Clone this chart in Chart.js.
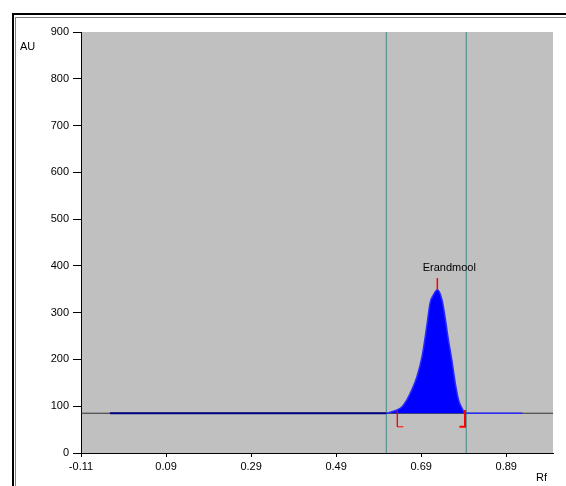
<!DOCTYPE html>
<html>
<head>
<meta charset="utf-8">
<script src="https://cdn.jsdelivr.net/npm/chart.js@4"></script>
<style>
    body { margin: 0; background: #fff; }
    #wrap { position: relative; width: 566px; height: 486px; overflow: hidden; }
    .frame-outer { position: absolute; left: 12px; top: 13px; width: 600px; height: 520px;
                   border-left: 2px solid #000; border-top: 2px solid #000; }
    .frame-inner { position: absolute; left: 15px; top: 17px; width: 600px; height: 520px;
                   border-left: 1px solid #808080; border-top: 1px solid #808080; }
    canvas { position: absolute; left: 0; top: 0; }
</style>
</head>
<body>
<div id="wrap">
    <div class="frame-outer"></div>
    <div class="frame-inner"></div>
    <canvas id="chart" width="566" height="486"></canvas>
</div>
<script>
// Eixo X (Rf) e eixo Y (AU)
const xTicks = [-0.11, 0.09, 0.29, 0.49, 0.69, 0.89];
const yTicks = [0, 100, 200, 300, 400, 500, 600, 700, 800, 900];

// Linha de base do cromatograma
const baselineRf = [-0.11, 1.0];
const baselineAU = [85, 85];

// Traço do densitograma
const traceRf = [-0.042, 0.608, 0.609, 0.621, 0.633, 0.645, 0.656, 0.668, 0.680, 0.692, 0.703,
                 0.711, 0.719, 0.728, 0.739, 0.746, 0.754, 0.762, 0.770, 0.778, 0.786, 0.793, 0.928];
const traceAU = [85, 85, 85, 88, 92, 99, 113, 135, 163, 206, 270,
                 321, 338, 349, 327, 291, 242, 199, 150, 113, 96, 85, 85];

// Limites da integração (linhas verticais)
const windowRf = [0.608, 0.796];

// Pico identificado
const peakName = 'Erandmool';
const peakRf = 0.728;
const peakAU = [349, 374];
const startMarkRf = [0.634, 0.634, 0.648];
const startMarkAU = [90, 56, 56];
const endMarkRf = [0.793, 0.793, 0.780];
const endMarkAU = [92, 56, 56];

const toPoints = (xs, ys) => xs.map((x, i) => ({ x: x, y: ys[i] }));

const fontFamily = 'Arial, "Liberation Sans", sans-serif';

// Fundo cinza da área do gráfico + textos
const plotDecor = {
    id: 'plotDecor',
    beforeDraw(chart) {
        const a = chart.chartArea;
        const ctx = chart.ctx;
        ctx.save();
        ctx.fillStyle = '#c0c0c0';
        ctx.fillRect(a.left, a.top, a.right - a.left, a.bottom - a.top);
        ctx.restore();
    },
    afterDraw(chart) {
        const ctx = chart.ctx;
        const xs = chart.scales.x;
        const ys = chart.scales.y;
        ctx.save();
        ctx.fillStyle = '#000';
        ctx.font = '11px ' + fontFamily;
        ctx.textBaseline = 'alphabetic';
        ctx.textAlign = 'left';
        ctx.fillText('AU', 20, 50);
        ctx.fillText('Rf', 536, 481);
        ctx.textAlign = 'center';
        ctx.fillText(peakName, xs.getPixelForValue(peakRf) + 12, ys.getPixelForValue(peakAU[1]) - 7);
        ctx.restore();
    }
};

const lineDs = (data, color, width, order) => ({
    data: data,
    borderColor: color,
    borderWidth: width,
    pointRadius: 0,
    fill: false,
    tension: 0,
    order: order
});

new Chart(document.getElementById('chart'), {
    type: 'line',
    data: {
        datasets: [
            lineDs(toPoints([peakRf, peakRf], peakAU), '#ff0000', 1.5, 0),
            lineDs(toPoints(startMarkRf, startMarkAU), '#ff0000', 1, 0),
            lineDs(toPoints(endMarkRf, endMarkAU), '#ff0000', 2, 0),
            {
                data: toPoints(traceRf, traceAU),
                borderColor: '#0000ff',
                borderWidth: 1.5,
                backgroundColor: '#0000ff',
                fill: { value: 85 },
                pointRadius: 0,
                cubicInterpolationMode: 'monotone',
                order: 1,
                segment: {
                    borderColor: c => c.p0.parsed.x < 0.6 ? '#000080' : '#2a2aff',
                    borderWidth: c => c.p0.parsed.x < 0.6 ? 2 : 1.5
                }
            },
            lineDs(toPoints(baselineRf, baselineAU), '#303030', 1, 2),
            lineDs(toPoints([windowRf[0], windowRf[0]], [0, 900]), '#3f8a86', 1, 3),
            lineDs(toPoints([windowRf[1], windowRf[1]], [0, 900]), '#3f8a86', 1, 3)
        ]
    },
    options: {
        responsive: false,
        animation: false,
        layout: { padding: { left: 0, top: 32, right: 13, bottom: 0 } },
        plugins: {
            legend: { display: false },
            tooltip: { enabled: false }
        },
        scales: {
            x: {
                type: 'linear',
                min: -0.11,
                max: 1.0,
                afterBuildTicks: s => { s.ticks = xTicks.map(v => ({ value: v })); },
                afterFit: s => { s.height = 33; },
                border: { color: '#000', width: 1 },
                grid: { drawOnChartArea: false, color: '#000', tickLength: 4 },
                ticks: {
                    color: '#000',
                    padding: 3,
                    maxRotation: 0,
                    font: { family: fontFamily, size: 11 },
                    callback: v => v.toFixed(2)
                }
            },
            y: {
                type: 'linear',
                min: 0,
                max: 900,
                afterBuildTicks: s => { s.ticks = yTicks.map(v => ({ value: v })); },
                afterFit: s => { s.width = 81; },
                border: { color: '#000', width: 1 },
                grid: { drawOnChartArea: false, color: '#000', tickLength: 8 },
                ticks: {
                    color: '#000',
                    padding: 4,
                    font: { family: fontFamily, size: 11 }
                }
            }
        }
    },
    plugins: [plotDecor]
});
</script>
</body>
</html>
